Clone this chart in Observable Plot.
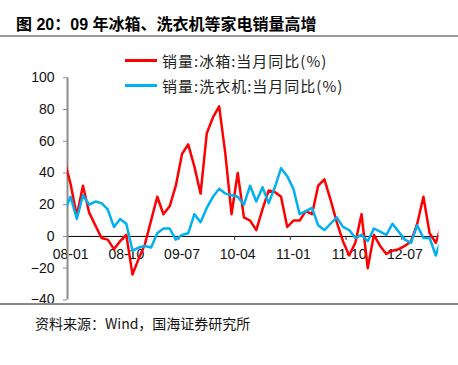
<!DOCTYPE html>
<html>
<head>
<meta charset="utf-8">
<script src="https://cdn.jsdelivr.net/npm/d3@7"></script>
<script src="https://cdn.jsdelivr.net/npm/@observablehq/plot@0.6"></script>
<style>
  body { margin: 0; background: #fff; }
  #wrap { position: relative; width: 458px; height: 365px; overflow: hidden; background: #fff; }
  #title { position: absolute; left: 16px; top: 16px; font-size: 16px; line-height: 18px; font-weight: bold; color: #000; white-space: nowrap;
           font-family: "Liberation Sans", Arial, "Noto Sans CJK SC", sans-serif; }
  #rule1 { position: absolute; left: 0; top: 35px; width: 458px; height: 2px; background: #9a9a9a; }
  #chart { position: absolute; left: 0; top: 40px; }
  .leg { position: absolute; left: 125px; height: 20px; display: flex; align-items: center; white-space: nowrap;
         font-family: "Noto Sans CJK SC", sans-serif; font-size: 15px; color: #222; letter-spacing: 1px; }
  .leg .sw { display: inline-block; width: 32px; height: 3px; margin-right: 5px; }
  #rule2 { position: absolute; left: 0; top: 303px; width: 458px; height: 2px; background: #8a8a8a; }
  #cap { position: absolute; left: 35px; top: 314px; font-size: 14px; line-height: 18px; color: #111; white-space: nowrap;
         font-family: "Noto Sans CJK SC", sans-serif; }
</style>
</head>
<body>
<div id="wrap">
  <div id="title"></div>
  <div id="rule1"></div>
  <div id="chart"></div>
  <div id="legend"></div>
  <div id="rule2"></div>
  <div id="cap"></div>
</div>
<script>
// ---- data (monthly, 2007-12 .. 2013-01; first and last months fall just outside the visible frame) ----
const firstMonth = "07-12";
const refrigerator = [48, 33, 13, 32, 15, 7, -1, -2, -8, -3, 1, -24, -14, -5, 10, 25, 14, 19, 32, 52, 58, 44, 27, 65, 75, 82,
  52, 14, 40, 12, 10, 4, 17, 29, 28, 25, 6, 10, 10, 16, 14, 32, 36, 23, 9, -3, -12, -4, 14, -20, 1, -6, -11, -9, -8, -6, -3, 8, 25, 2, -4, 8];
const washer = [16, 25, 11, 26, 20, 22, 21, 17, 6, 11, 8, -9, -7, -6, -7, 2, 5, 5, -2, 1, 2, 14, 9, 18, 25, 30,
  27, 26, 25, 20, 32, 22, 31, 21, 31, 43, 38, 30, 14, 16, 18, 7, 4, 8, 12, 6, 4, -1, 1, -3, 5, 3, 1, 8, 3, -2, -4, 7, -1, -1, -12, 0];
const seriesNames = ["销量:冰箱:当月同比(%)", "销量:洗衣机:当月同比(%)"];
const seriesColors = ["#FF0000", "#00B0F0"];
const xTickLabels = ["08-01", "08-10", "09-07", "10-04", "11-01", "11-10", "12-07"];
const xFirst = "08-01", xLast = "12-12";
const yTicks = [-40, -20, 0, 20, 40, 60, 80, 100];
const titleText = "图 20：09 年冰箱、洗衣机等家电销量高增";
const captionText = "资料来源：Wind，国海证券研究所";

// month label "yy-mm" -> index (08-01 = 0)
const mIndex = s => { const [yy, mm] = s.split("-").map(Number); return (yy - 8) * 12 + (mm - 1); };
const start = mIndex(firstMonth);
const rows = [];
[refrigerator, washer].forEach((arr, k) => arr.forEach((v, i) => rows.push({i: start + i, v, s: seriesNames[k]})));
const xDomain = [mIndex(xFirst) - 0.5, mIndex(xLast) + 0.5];

document.getElementById("title").textContent = titleText;
document.getElementById("cap").textContent = captionText;
const legend = document.getElementById("legend");
seriesNames.forEach((name, k) => {
  const d = document.createElement("div");
  d.className = "leg";
  d.style.top = (50 + k * 25.5) + "px";
  const sw = document.createElement("span");
  sw.className = "sw";
  sw.style.background = seriesColors[k];
  d.appendChild(sw);
  d.appendChild(document.createTextNode(name));
  legend.appendChild(d);
});

const chart = Plot.plot({
  width: 458,
  height: 266,
  marginLeft: 67,
  marginRight: 19.6,
  marginTop: 37.3,
  marginBottom: 6.6,
  x: {domain: xDomain, axis: null},
  y: {domain: [yTicks[0], yTicks[yTicks.length - 1]]},
  color: {domain: seriesNames, range: seriesColors},
  style: {fontFamily: "'Liberation Sans', Arial, sans-serif", fontSize: "14px", background: "transparent", overflow: "visible", color: "#111"},
  marks: [
    Plot.ruleY([0], {stroke: "#000", strokeWidth: 1}),
    Plot.ruleX(xTickLabels, {x: d => mIndex(d) - 0.5, y1: 0, y2: 0, insetBottom: -4, stroke: "#333"}),
    Plot.text(xTickLabels, {x: d => mIndex(d), y: 0, dy: 18, text: d => d, fill: "#111", fontSize: 14}),
    Plot.axisY({ticks: yTicks, tickSize: 4, tickPadding: 9, stroke: "#8c8c8c", fill: "#111", fontSize: 14, label: null}),
    Plot.ruleX([xDomain[0]], {stroke: "#8c8c8c", strokeWidth: 2}),
    Plot.line(rows, {x: "i", y: "v", z: "s", stroke: "s", strokeWidth: 2.5, strokeLinejoin: "round", clip: true})
  ]
});
document.getElementById("chart").appendChild(chart);
</script>
</body>
</html>
